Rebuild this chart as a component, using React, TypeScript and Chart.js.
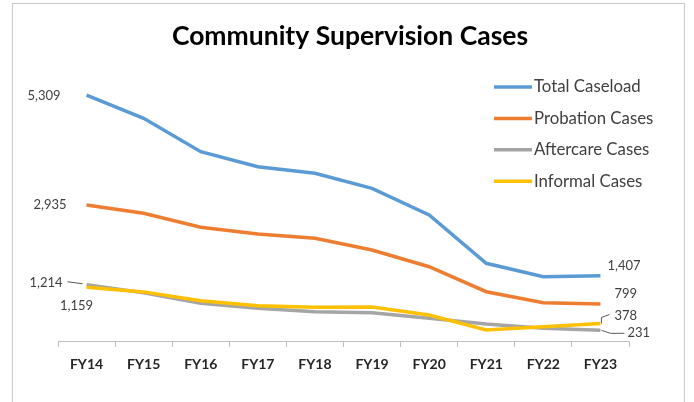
import React, { useEffect, useRef } from "react";
import { Chart, registerables } from "chart.js";

Chart.register(...registerables);

const TITLE = "Community Supervision Cases";
const categories = ["FY14", "FY15", "FY16", "FY17", "FY18", "FY19", "FY20", "FY21", "FY22", "FY23"];
const seriesNames = ["Total Caseload", "Probation Cases", "Aftercare Cases", "Informal Cases"];
const totalCaseload = [5309, 4806, 4085, 3761, 3619, 3295, 2719, 1677, 1388, 1407];
const probationCases = [2935, 2756, 2454, 2309, 2216, 1964, 1603, 1064, 826, 799];
const aftercareCases = [1214, 1040, 815, 706, 632, 611, 490, 367, 274, 231];
const informalCases = [1159, 1060, 870, 762, 727, 732, 561, 237, 309, 378];
const seriesColors = ["#5B9BD5", "#ED7D31", "#A5A5A5", "#FFC000"];

const FONT = "Lato, 'Open Sans', sans-serif";
const fmt = (v: number) => v.toLocaleString("en-US");

const overlay = {
  id: "overlay",
  afterDraw(chart: any) {
    const ctx = chart.ctx as CanvasRenderingContext2D;
    ctx.save();
    // frame
    ctx.strokeStyle = "#c8c8c8";
    ctx.lineWidth = 1;
    ctx.strokeRect(12.5, 3.5, 672, 420);
    // title
    ctx.fillStyle = "#000000";
    ctx.font = `bold 26.5px ${FONT}`;
    ctx.textAlign = "center";
    ctx.textBaseline = "middle";
    ctx.fillText(TITLE, 350, 36);
    // legend
    chart.data.datasets.forEach((ds: any, i: number) => {
      const y = 87 + i * 31.4;
      ctx.strokeStyle = ds.borderColor;
      ctx.lineWidth = 3.5;
      ctx.beginPath();
      ctx.moveTo(494, y);
      ctx.lineTo(532, y);
      ctx.stroke();
      ctx.fillStyle = "#404040";
      ctx.font = `16.8px ${FONT}`;
      ctx.textAlign = "left";
      ctx.fillText(ds.label, 534, y);
    });
    // data labels
    const pts = (i: number) => chart.getDatasetMeta(i).data;
    const val = (i: number, j: number) => chart.data.datasets[i].data[j];
    const n = categories.length - 1;
    ctx.font = `13px ${FONT}`;
    ctx.fillStyle = "#404040";
    ctx.strokeStyle = "#595959";
    ctx.lineWidth = 1;
    let p = pts(0)[0];
    ctx.textAlign = "right";
    ctx.fillText(fmt(val(0, 0)), p.x - 26, p.y + 1);
    p = pts(1)[0];
    ctx.fillText(fmt(val(1, 0)), p.x - 20, p.y);
    p = pts(2)[0];
    ctx.fillText(fmt(val(2, 0)), p.x - 24, p.y - 2);
    ctx.beginPath();
    ctx.moveTo(p.x - 19, p.y - 3);
    ctx.lineTo(p.x - 4, p.y - 1);
    ctx.stroke();
    p = pts(3)[0];
    ctx.textAlign = "center";
    ctx.fillText(fmt(val(3, 0)), p.x - 10, p.y + 19);
    ctx.textAlign = "left";
    p = pts(0)[n];
    ctx.fillText(fmt(val(0, n)), p.x + 7, p.y - 10);
    p = pts(1)[n];
    ctx.fillText(fmt(val(1, n)), p.x + 14, p.y - 10);
    p = pts(3)[n];
    ctx.fillText(fmt(val(3, n)), p.x + 14, p.y - 8);
    ctx.beginPath();
    ctx.moveTo(p.x + 1, p.y);
    ctx.lineTo(p.x + 1, p.y - 6);
    ctx.lineTo(p.x + 9, p.y - 9);
    ctx.stroke();
    p = pts(2)[n];
    ctx.fillText(fmt(val(2, n)), p.x + 27, p.y + 3);
    ctx.beginPath();
    ctx.moveTo(p.x + 1, p.y);
    ctx.lineTo(p.x + 10, p.y + 3);
    ctx.lineTo(p.x + 24, p.y + 3);
    ctx.stroke();
    ctx.restore();
  },
};

export default function App() {
  const ref = useRef<HTMLCanvasElement | null>(null);
  useEffect(() => {
    if (!ref.current) return;
    const series = [totalCaseload, probationCases, aftercareCases, informalCases];
    const orders = [1, 2, 3, 0];
    const chart = new Chart(ref.current, {
      type: "line",
      data: {
        labels: categories,
        datasets: series.map((d, i) => ({
          label: seriesNames[i],
          data: d,
          borderColor: seriesColors[i],
          backgroundColor: seriesColors[i],
          borderWidth: 3.5,
          pointRadius: 0,
          tension: 0,
          order: orders[i],
        })),
      },
      options: {
        responsive: false,
        animation: false,
        layout: { padding: { left: 58, right: 65, top: 63, bottom: 0 } },
        plugins: { legend: { display: false }, title: { display: false }, tooltip: { enabled: false } },
        scales: {
          x: {
            offset: true,
            grid: { display: true, drawOnChartArea: false, drawTicks: true, tickLength: 6, offset: true, color: "#bfbfbf" },
            border: { display: true, color: "#bfbfbf" },
            ticks: { color: "#262626", font: { family: FONT, size: 14, weight: "bold" }, padding: 9, maxRotation: 0 },
            afterFit: (scale: any) => {
              scale.height = 61;
            },
          },
          y: { display: false, min: 0, max: 6000 },
        },
      },
      plugins: [overlay],
    });
    return () => chart.destroy();
  }, []);
  return (
    <div style={{ position: "absolute", left: 0, top: 0, width: 694, height: 402, background: "#fff" }}>
      <canvas ref={ref} width={694} height={402} />
    </div>
  );
}
